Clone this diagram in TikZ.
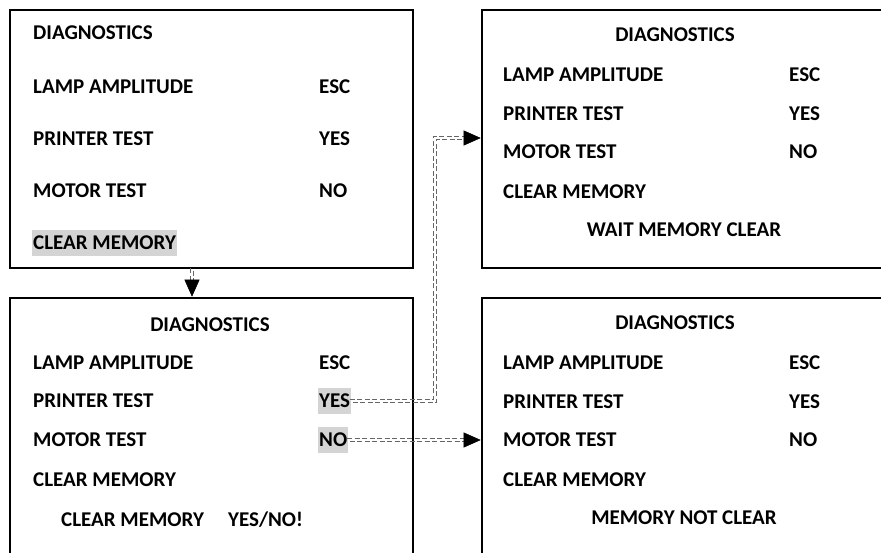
\documentclass[tikz,border=0pt]{standalone}
\usepackage{fontspec}
\setmainfont{Carlito}
\usetikzlibrary{arrows.meta,decorations.markings}
\begin{document}
\begin{tikzpicture}[x=1pt,y=-1pt,
  font=\fontsize{21}{25}\selectfont\bfseries,
  screen/.style={rectangle, draw, line width=2.6pt, minimum width=403pt, minimum height=258pt, inner sep=0pt},
  txt/.style={anchor=west, inner xsep=1pt, inner ysep=6.5pt, text height=13.5pt, text depth=0pt},
  hl/.style={txt, fill=black!17},
  linkline/.style={draw=black!60, line width=0.7pt, dash pattern=on 5pt off 2.5pt, shorten >=15pt},
  linktip/.style={postaction={decorate}, decoration={markings, mark=at position 1 with {\arrow[black]{Triangle[length=17pt,width=15pt]}}}}]
\path[use as bounding box] (0,0) rectangle (881,552);
\clip (0,0) rectangle (881,552);
\node[screen] (main) at (211.5,139) {};
\node[screen] (wait) at (683.5,139) {};
\node[screen] (ask) at (211.5,427) {};
\node[screen] (notclr) at (683.5,427) {};
% first screen
\node[txt] (main-t) at (32,33) {DIAGNOSTICS};
\node[txt] (main-lamp) at (32,87) {LAMP AMPLITUDE};
\node[txt] (main-esc) at (318,87) {ESC};
\node[txt] (main-prn) at (32,139) {PRINTER TEST};
\node[txt] (main-yes) at (318,139) {YES};
\node[txt] (main-mot) at (32,191) {MOTOR TEST};
\node[txt] (main-no) at (318,191) {NO};
\node[hl] (main-clr) at (32,243) {CLEAR MEMORY};
% question screen
\node[txt, anchor=center] (ask-t) at (210,325) {DIAGNOSTICS};
\node[txt] (ask-lamp) at (32,363) {LAMP AMPLITUDE};
\node[txt] (ask-esc) at (318,363) {ESC};
\node[txt] (ask-prn) at (32,401) {PRINTER TEST};
\node[hl] (ask-yes) at (318,401) {YES};
\node[txt] (ask-mot) at (32,440) {MOTOR TEST};
\node[hl] (ask-no) at (318,440) {NO};
\node[txt] (ask-clr) at (32,480) {CLEAR MEMORY};
\node[txt] (ask-q) at (60,520) {CLEAR MEMORY};
\node[txt] (ask-yn) at (227,520) {YES/NO!};
% wait screen
\node[txt, anchor=center] (wait-t) at (675,35) {DIAGNOSTICS};
\node[txt] (wait-lamp) at (502,75) {LAMP AMPLITUDE};
\node[txt] (wait-esc) at (788,75) {ESC};
\node[txt] (wait-prn) at (502,114) {PRINTER TEST};
\node[txt] (wait-yes) at (788,114) {YES};
\node[txt] (wait-mot) at (502,152) {MOTOR TEST};
\node[txt] (wait-no) at (788,152) {NO};
\node[txt] (wait-clr) at (502,192) {CLEAR MEMORY};
\node[txt, anchor=center] (wait-msg) at (684,230) {WAIT MEMORY CLEAR};
% not cleared screen
\node[txt, anchor=center] (notclr-t) at (675,323) {DIAGNOSTICS};
\node[txt] (notclr-lamp) at (502,363) {LAMP AMPLITUDE};
\node[txt] (notclr-esc) at (788,363) {ESC};
\node[txt] (notclr-prn) at (502,402) {PRINTER TEST};
\node[txt] (notclr-yes) at (788,402) {YES};
\node[txt] (notclr-mot) at (502,440) {MOTOR TEST};
\node[txt] (notclr-no) at (788,440) {NO};
\node[txt] (notclr-clr) at (502,480) {CLEAR MEMORY};
\node[txt, anchor=center] (notclr-msg) at (684,518) {MEMORY NOT CLEAR};
% links, each one two thin dashed lines side by side
\coordinate (jog) at (435,138);
\foreach \s in {-1.3,1.3} {
  \draw[linkline, transform canvas={shift={(\s pt,-\s pt)}}] ([xshift=-19.5pt]main.south) -- ([xshift=-19.5pt]ask.north);
  \draw[linkline, transform canvas={shift={(\s pt,-\s pt)}}] (ask-yes.east) -| (jog) -- (jog -| wait.west);
  \draw[linkline, transform canvas={shift={(\s pt,-\s pt)}}] (ask-no.east) -- (ask-no.east -| notclr.west);
}
\path[linktip] ([xshift=-19.5pt]main.south) -- ([xshift=-19.5pt]ask.north);
\path[linktip] (ask-yes.east) -| (jog) -- (jog -| wait.west);
\path[linktip] (ask-no.east) -- (ask-no.east -| notclr.west);
\end{tikzpicture}
\end{document}
